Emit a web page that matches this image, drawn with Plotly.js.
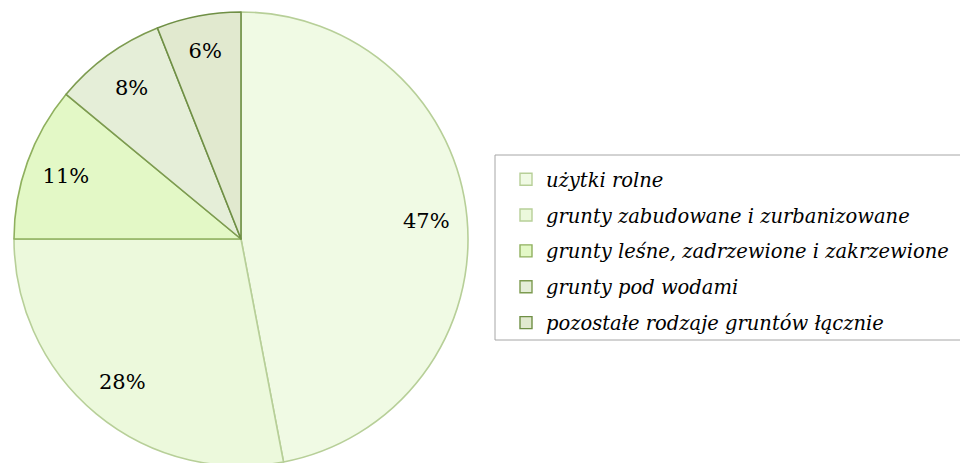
<!DOCTYPE html>
<html>
<head>
<meta charset="utf-8">
<script src="https://cdn.plot.ly/plotly-3.0.1.min.js"></script>
<style>
html,body{margin:0;padding:0;overflow:hidden;background:#fff;}
#chart{width:960px;height:470px;}
</style>
</head>
<body>
<div id="chart"></div>
<script>
var categories = [
  "użytki rolne",
  "grunty zabudowane i zurbanizowane",
  "grunty leśne, zadrzewione i zakrzewione",
  "grunty pod wodami",
  "pozostałe rodzaje gruntów łącznie"
];
var shares = [47, 28, 11, 8, 6];
var fillColors = ["#f0fae4", "#ecf9dc", "#e3f8c6", "#e5eed8", "#e1e9cf"];
var lineColors = ["#b7cf98", "#b7cf98", "#8fb05e", "#7d9b50", "#6f8f45"];

var H = 470, W = 960;
var domain = {x: [14 / W, 468 / W], y: [(H - 466) / H, (H - 12) / H]};

var pieFill = {
  type: "pie",
  values: shares,
  labels: categories,
  sort: false,
  direction: "clockwise",
  rotation: 0,
  domain: domain,
  marker: {colors: fillColors, line: {color: lineColors, width: 1.6}},
  textinfo: "none",
  hoverinfo: "label+percent",
  showlegend: false
};

var pieText = {
  type: "pie",
  values: shares,
  labels: categories,
  sort: false,
  direction: "clockwise",
  rotation: 0,
  hole: 0.64,
  domain: domain,
  marker: {colors: categories.map(function () { return "rgba(0,0,0,0)"; }), line: {width: 0}},
  textinfo: "percent",
  texttemplate: "%{percent:.0%}",
  textposition: "inside",
  insidetextorientation: "horizontal",
  insidetextfont: {family: "DejaVu Serif", size: 21, color: "#000000"},
  hoverinfo: "skip",
  showlegend: false
};

var legendTraces = categories.map(function (c, i) {
  return {
    type: "scatter",
    x: [null], y: [null],
    mode: "markers",
    name: c,
    legendgroup: "g" + i,
    marker: {symbol: "square", size: 12, color: fillColors[i], line: {color: lineColors[i], width: 1.4}},
    hoverinfo: "skip"
  };
});

var layout = {
  width: W, height: H,
  margin: {l: 0, r: 0, t: 0, b: 0},
  paper_bgcolor: "#ffffff",
  plot_bgcolor: "rgba(0,0,0,0)",
  xaxis: {visible: false},
  yaxis: {visible: false},
  showlegend: true,
  shapes: [{
    type: "rect", xref: "paper", yref: "paper",
    x0: 495 / W, x1: 1.01, y0: 1 - 340 / H, y1: 1 - 155 / H,
    line: {color: "#a6a6a6", width: 1}, fillcolor: "rgba(0,0,0,0)",
    layer: "below"
  }],
  legend: {
    x: 506 / W, y: 1 - 160 / H,
    xanchor: "left", yanchor: "top",
    borderwidth: 0,
    bgcolor: "rgba(0,0,0,0)",
    font: {family: "DejaVu Serif", size: 19.5, style: "italic", color: "#000000"},
    traceorder: "grouped",
    tracegroupgap: 7.5,
    itemwidth: 30
  }
};

Plotly.newPlot("chart", [pieFill, pieText].concat(legendTraces), layout, {displayModeBar: false, staticPlot: true});
</script>
</body>
</html>
